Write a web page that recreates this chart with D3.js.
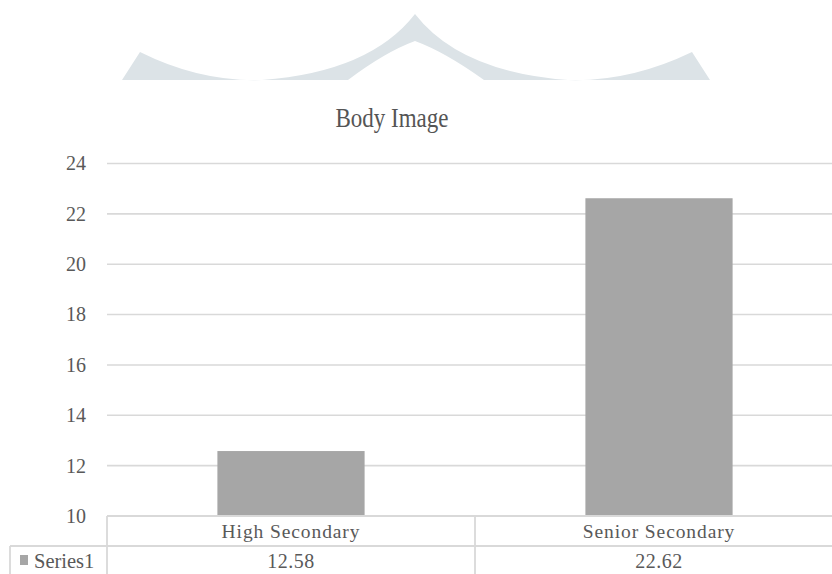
<!DOCTYPE html>
<html>
<head>
<meta charset="utf-8">
<script src="https://cdn.jsdelivr.net/npm/d3@7"></script>
<style>
  html, body { margin: 0; padding: 0; background: #ffffff; }
  svg { display: block; }
  text { font-family: "Liberation Serif", "DejaVu Serif", serif; fill: #595959; }
</style>
</head>
<body>
<div id="chart"></div>
<script>
// ---- data ----
const title = "Body Image";
const categories = ["High Secondary", "Senior Secondary"];
const seriesName = "Series1";
const seriesValues = [12.58, 22.62];
const valueLabels = ["12.58", "22.62"];
const yTicks = [10, 12, 14, 16, 18, 20, 22, 24];

// ---- layout ----
const W = 832, H = 574;
const plotLeft = 107, plotRight = 843, plotTop = 163.5, plotBottom = 516;
const tableRow1 = 516, tableRow2 = 546, legendLeft = 10;
const gridColor = "#d9d9d9";
const barColor = "#a6a6a6";

const svg = d3.select("#chart").append("svg")
  .attr("width", W).attr("height", H);

// decorative watermark shape (from the scanned page)
svg.append("path")
  .attr("d", "M122,80 L140,52 Q200,82 262,80 Q370,72 415,14 Q460,72 568,80 Q630,82 692,52 L710,80 L484,80 Q445,52 415,41 Q385,52 348,80 Z")
  .attr("fill", "#dce3e7");

// title
svg.append("text")
  .attr("transform", "translate(392,127) scale(1,1.22)")
  .attr("text-anchor", "middle")
  .style("font-size", "23px")
  .style("fill", "#555555")
  .text(title);

const x = d3.scaleBand()
  .domain(categories)
  .range([plotLeft, plotRight])
  .paddingInner(0.6)
  .paddingOuter(0.3);

const y = d3.scaleLinear()
  .domain([10, 24])
  .range([plotBottom, plotTop]);

// gridlines
svg.append("g")
  .selectAll("line")
  .data(yTicks.filter(d => d !== 10))
  .join("line")
  .attr("x1", plotLeft).attr("x2", plotRight)
  .attr("y1", d => y(d)).attr("y2", d => y(d))
  .attr("stroke", gridColor).attr("stroke-width", 1.6);

// y axis labels
const yAxis = d3.axisLeft(y).tickValues(yTicks).tickSize(0).tickPadding(21).tickFormat(d3.format("d"));
const yg = svg.append("g").attr("transform", `translate(${plotLeft},0)`).call(yAxis);
yg.select(".domain").remove();
yg.selectAll("text")
  .style("font-family", '"Liberation Serif", serif')
  .style("font-size", "20px")
  .style("fill", "#595959");

// bars
svg.append("g")
  .selectAll("rect")
  .data(seriesValues)
  .join("rect")
  .attr("x", (d, i) => x(categories[i]))
  .attr("width", x.bandwidth())
  .attr("y", d => y(d))
  .attr("height", d => y(10) - y(d))
  .attr("fill", barColor);

// data table
const tg = svg.append("g");
const step = x.step();
const lineAttr = sel => sel.attr("stroke", gridColor).attr("stroke-width", 1.8);
tg.append("line").attr("x1", plotLeft).attr("x2", W + 20).attr("y1", tableRow1).attr("y2", tableRow1).call(lineAttr);
tg.append("line").attr("x1", legendLeft).attr("x2", W + 20).attr("y1", tableRow2).attr("y2", tableRow2).call(lineAttr);
tg.append("line").attr("x1", legendLeft).attr("x2", legendLeft).attr("y1", tableRow2).attr("y2", H + 10).call(lineAttr);
const boundaries = [plotLeft, plotLeft + step];
tg.selectAll("line.v").data(boundaries).join("line")
  .attr("class", "v")
  .attr("x1", d => d).attr("x2", d => d)
  .attr("y1", tableRow1).attr("y2", H + 10).call(lineAttr);

tg.selectAll("text.cat").data(categories).join("text")
  .attr("class", "cat")
  .attr("x", d => x(d) + x.bandwidth() / 2)
  .attr("y", (tableRow1 + tableRow2) / 2)
  .attr("dy", "0.35em")
  .attr("text-anchor", "middle")
  .style("font-size", "19.5px")
  .style("letter-spacing", "0.9px")
  .text(d => d);

tg.selectAll("text.val").data(valueLabels).join("text")
  .attr("class", "val")
  .attr("x", (d, i) => x(categories[i]) + x.bandwidth() / 2)
  .attr("y", tableRow2 + 15)
  .attr("dy", "0.35em")
  .attr("text-anchor", "middle")
  .style("font-size", "20px")
  .style("letter-spacing", "0.5px")
  .text(d => d);

// legend key in table
tg.append("rect")
  .attr("x", 20).attr("y", 555).attr("width", 8).attr("height", 10)
  .attr("fill", barColor);
tg.append("text")
  .attr("x", 34).attr("y", tableRow2 + 15).attr("dy", "0.35em")
  .style("font-size", "20.5px")
  .text(seriesName);
</script>
</body>
</html>
